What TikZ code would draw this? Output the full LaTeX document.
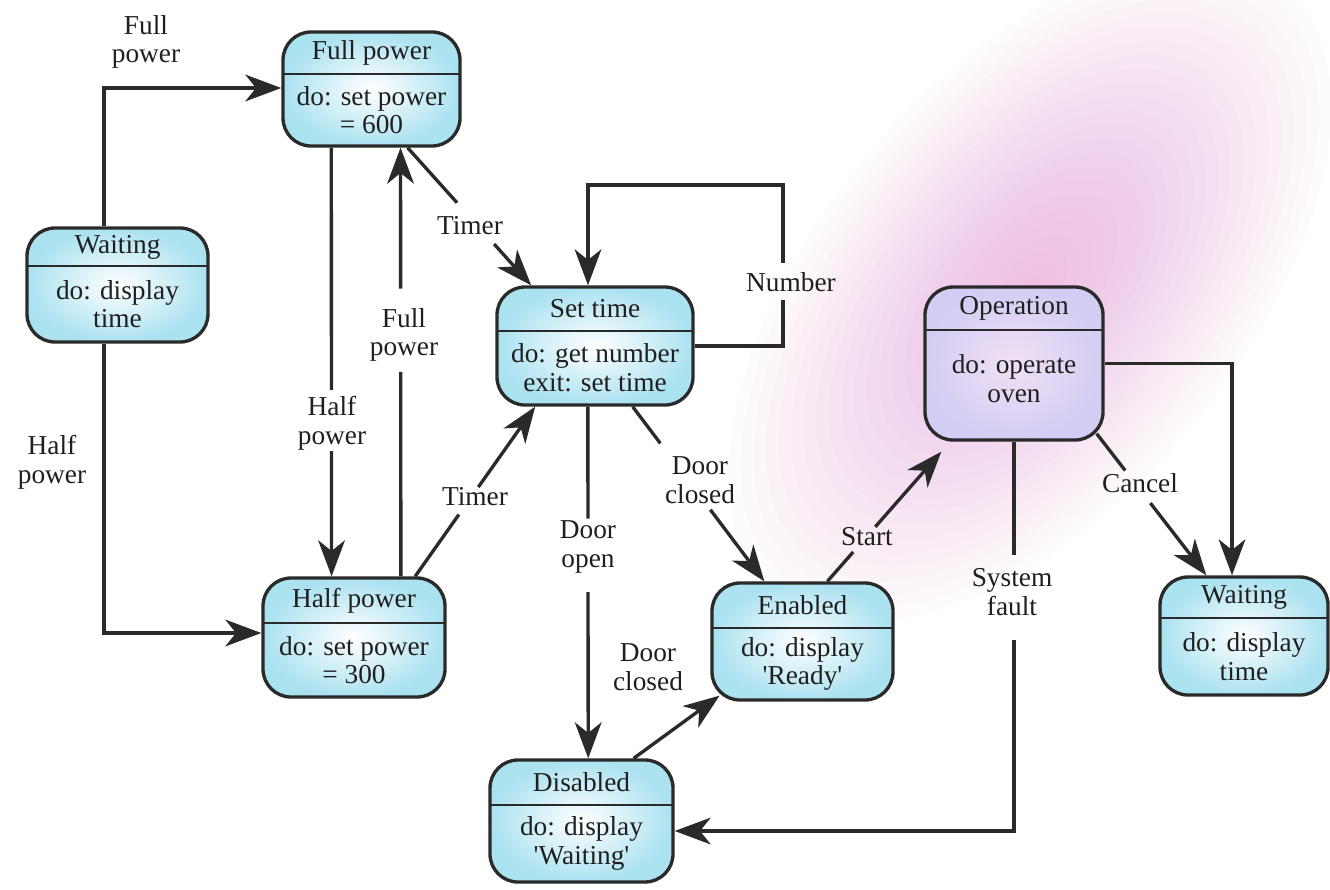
\documentclass[tikz,border=0pt]{standalone}
\usepackage{fontspec}
\setmainfont{Liberation Serif}
\usetikzlibrary{arrows.meta,fit,calc}

\definecolor{ink}{HTML}{1F1F1F}
\definecolor{linegray}{HTML}{2A2A2A}
\definecolor{boxcyan}{HTML}{ABE2F0}
\definecolor{boxlav}{HTML}{D4CDF3}
\definecolor{haze}{HTML}{F07ECD}

\tikzset{
  x=0.75pt, y=-0.75pt,
  every node/.style={font=\fontsize{20.5}{21.5}\selectfont, text=ink},
  state/.style={draw=linegray, line width=2.5pt, rounded corners=21pt,
    inner sep=0pt, shade, inner color=white, outer color=boxcyan},
  opstate/.style={state, inner color={rgb,255:red,240;green,224;blue,245}, outer color=boxlav},
  state body/.style={},
  opstate body/.style={yshift=5pt},
  divider/.style={draw=linegray, line width=2pt},
  txt/.style={align=center, inner sep=0pt},
  lbl/.style={align=center, inner sep=1pt},
  wire/.style={draw=linegray, line width=2.5pt},
  trans/.style={wire, -{Stealth[length=27pt, width=20pt, inset=8pt]}},
}

% a state: name, style, corners x1 y1 x2 y2, divider y, title, activity
\newcommand\umlstate[9]{%
  \node[#2, fit={(#3,#4) (#5,#6)}] (#1) {};
  \draw[divider] (#3,#7) -- (#5,#7);
  \node[txt] (#1-name) at ({(#3+#5)/2},{(#4+#7)/2}) {#8};
  \node[txt, #2 body] (#1-do) at ({(#3+#5)/2},{(#7+#6)/2}) {#9};
}

% a transition whose line is interrupted by its label
\newcommand\splitarrow[4]{%
  \draw[wire] (#1) -- ($(#1)!#3!(#2)$);
  \draw[trans] ($(#1)!#4!(#2)$) -- (#2);
}

\begin{document}
\begin{tikzpicture}
\useasboundingbox (0,0) rectangle (1330,889);
\fill[white] (0,0) rectangle (1330,889);

% pink stain behind the right half
\begin{scope}
  \clip (0,0) rectangle (1330,889);
  \begin{scope}[shift={(1030,290)}, rotate=50]
    \foreach \k in {1,...,24}
      \fill[haze, fill opacity=0.022] (0,0) ellipse ({16.5*\k} and {8.8*\k});
  \end{scope}
\end{scope}

% states
\umlstate{wl}{state}{27}{228}{208}{342}{266}{Waiting}{do: display\\time}
\umlstate{fp}{state}{283}{32}{460}{146}{74}{Full power}{do: set power\\= 600}
\umlstate{hp}{state}{263}{578}{445}{697}{623}{Half power}{do: set power\\= 300}
\umlstate{st}{state}{497}{287}{693}{405}{331}{Set time}{do: get number\\exit: set time}
\umlstate{dis}{state}{490}{760}{673}{882}{805}{Disabled}{do: display\\\textquotesingle Waiting\textquotesingle}
\umlstate{en}{state}{712}{583}{893}{700}{628}{Enabled}{do: display\\\textquotesingle Ready\textquotesingle}
\umlstate{op}{opstate}{925}{287}{1103}{440}{330}{Operation}{do: operate\\oven}
\umlstate{wr}{state}{1160}{577}{1328}{695}{618}{Waiting}{do: display\\time}

% Waiting -> Full power / Half power
\coordinate (c1) at (104,88);
\coordinate (c2) at (104,633);
\draw[trans] (wl.north -| c1) -- (c1) -- (fp.west |- c1);
\draw[trans] (wl.south -| c1) -- (c2) -- (hp.west |- c2);
\node[lbl] (l-full0) at (146,42) {Full\\power};
\node[lbl] (l-half0) at (52,462) {Half\\power};

% Full power -> Half power
\coordinate (a1) at ($(fp.south west)!0.277!(fp.south east)$);
\coordinate (b1) at ($(hp.north west)!0.379!(hp.north east)$);
\splitarrow{a1}{b1}{0.565}{0.708}
\node[lbl] (l-half1) at (332,423) {Half\\power};

% Half power -> Full power
\coordinate (a2) at ($(hp.north west)!0.753!(hp.north east)$);
\coordinate (b2) at ($(fp.south west)!0.661!(fp.south east)$);
\splitarrow{a2}{b2}{0.477}{0.671}
\node[lbl] (l-full1) at (404,335) {Full\\power};

% Full power -> Set time
\coordinate (a3) at ($(fp.south west)!0.70!(fp.south east)$);
\coordinate (b3) at ($(st.north west)!0.18!(st.north east)$);
\splitarrow{a3}{b3}{0.40}{0.70}
\node[lbl] (l-timer1) at (470,226) {Timer};

% Half power -> Set time
\coordinate (a4) at ($(hp.north west)!0.83!(hp.north east)$);
\coordinate (b4) at ($(st.south west)!0.20!(st.south east)$);
\splitarrow{a4}{b4}{0.364}{0.526}
\node[lbl] (l-timer2) at (475,497) {Timer};

% Set time -> Set time
\coordinate (nb) at (783,300);
\coordinate (nt) at (783,263);
\coordinate (nc) at (588,185);
\draw[wire] (st.east) -| (nb);
\draw[trans] (nt) |- (nc) -- (st.north -| nc);
\node[lbl] (l-number) at (791,282) {Number};

% Set time -> Disabled
\coordinate (a5) at ($(st.south west)!0.464!(st.south east)$);
\coordinate (b5) at ($(dis.north west)!0.536!(dis.north east)$);
\splitarrow{a5}{b5}{0.318}{0.527}
\node[lbl] (l-open) at (588,547) {Door\\open};

% Set time -> Enabled
\coordinate (a6) at ($(st.south west)!0.689!(st.south east)$);
\coordinate (b6) at ($(en.north west)!0.293!(en.north east)$);
\splitarrow{a6}{b6}{0.21}{0.59}
\node[lbl] (l-closed1) at (700,480) {Door\\closed};

% Disabled -> Enabled
\coordinate (a7) at ($(dis.north west)!0.78!(dis.north east)$);
\coordinate (b7) at ($(en.south west)!0.05!(en.north east)$);
\draw[trans] (a7) -- (b7);
\node[lbl] (l-closed2) at (648,667) {Door\\closed};

% Enabled -> Operation
\coordinate (a8) at ($(en.north west)!0.635!(en.north east)$);
\coordinate (b8) at ($(op.south west)+(18,10)$);
\splitarrow{a8}{b8}{0.226}{0.42}
\node[lbl] (l-start) at (867,537) {Start};

% Operation -> Disabled
\coordinate (sf1) at (1014,555);
\coordinate (sf2) at (1014,640);
\coordinate (sfc) at (1014,831);
\draw[wire] (op.south) -- (sf1);
\draw[trans] (sf2) -- (sfc) -- (dis.east |- sfc);
\node[lbl] (l-fault) at (1012,592) {System\\fault};

% Operation -> Waiting
\coordinate (a9) at ($(op.south east)+(-8,-8)$);
\coordinate (b9) at ($(wr.north west)!0.28!(wr.north east)$);
\splitarrow{a9}{b9}{0.26}{0.49}
\node[lbl] (l-cancel) at (1140,483) {Cancel};
\coordinate (cr) at (1232,364);
\draw[trans] (op.east) -| (wr.north -| cr);
\end{tikzpicture}
\end{document}
